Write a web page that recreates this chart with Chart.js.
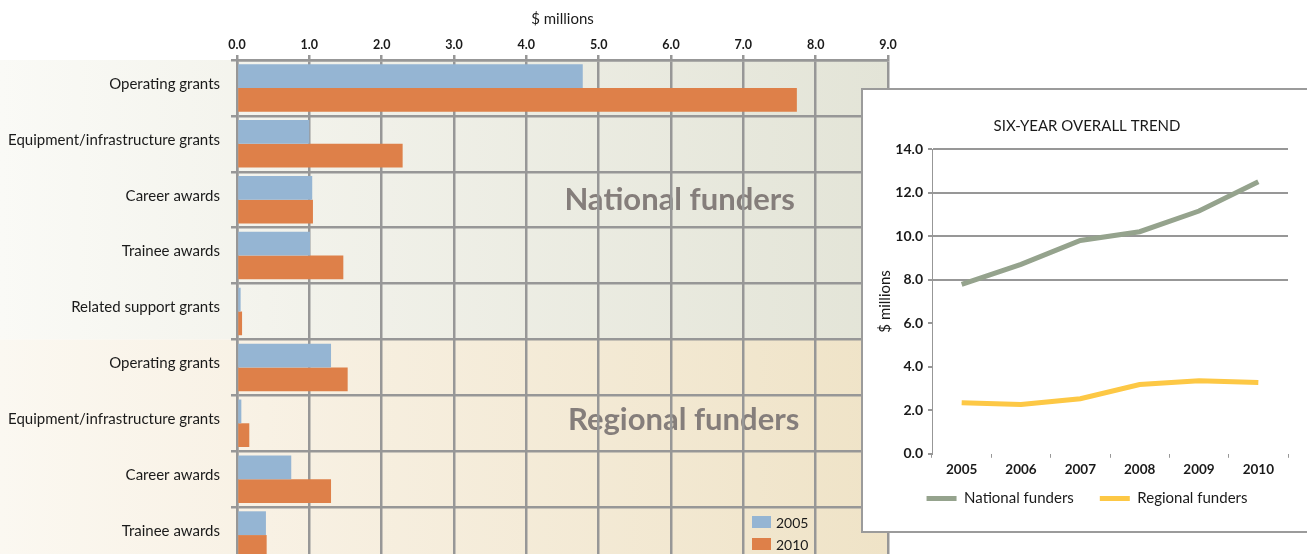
<!DOCTYPE html>
<html>
<head>
<meta charset="utf-8">
<script src="https://cdn.jsdelivr.net/npm/chart.js@4/dist/chart.umd.min.js"></script>
<style>
  html, body { margin: 0; padding: 0; width: 1307px; height: 554px; overflow: hidden; background: #fff; }
  #main { position: absolute; left: 0; top: 0; }
  #inset { position: absolute; left: 861px; top: 88px; width: 452px; height: 445px;
           background: #fff; border: 2px solid #9b9b9b; box-sizing: border-box; }
  #trend { position: absolute; left: 0; top: 0; }
</style>
</head>
<body>
<canvas id="main" width="900" height="583"></canvas>
<div id="inset"><canvas id="trend" width="444" height="441"></canvas></div>
<script>
// bar chart data ($ millions)
var categories = ['Operating grants', 'Equipment/infrastructure grants', 'Career awards', 'Trainee awards',
    'Related support grants', 'Operating grants', 'Equipment/infrastructure grants', 'Career awards', 'Trainee awards']
var values2005 = [4.78, 1.00, 1.04, 1.01, 0.05, 1.30, 0.06, 0.75, 0.40]
var values2010 = [7.74, 2.29, 1.05, 1.47, 0.07, 1.53, 0.17, 1.30, 0.41]
var xTicks = ['0.0', '1.0', '2.0', '3.0', '4.0', '5.0', '6.0', '7.0', '8.0', '9.0']

// trend chart data
var years = ['2005', '2006', '2007', '2008', '2009', '2010']
var national = [7.78, 8.70, 9.80, 10.20, 11.15, 12.50]
var regional = [2.35, 2.26, 2.53, 3.18, 3.36, 3.27]

var FONT = 'Lato, "Open Sans", sans-serif'
var GRID = '#979797'
var BLUE = '#95b5d3'
var ORANGE = '#de8049'

var bands = {
    id: 'bands',
    beforeDraw: function (chart) {
        var ctx = chart.ctx, area = chart.chartArea, y = chart.scales.y
        var split = (y.getPixelForValue(4) + y.getPixelForValue(5)) / 2
        ctx.save()
        var g1 = ctx.createLinearGradient(0, 0, area.right, 0)
        g1.addColorStop(0, '#fafaf6')
        g1.addColorStop(0.3, '#f3f3ec')
        g1.addColorStop(1, '#e3e4d7')
        ctx.fillStyle = g1
        ctx.fillRect(0, area.top, area.right, split - area.top)
        var g2 = ctx.createLinearGradient(0, 0, area.right, 0)
        g2.addColorStop(0, '#fbf8f1')
        g2.addColorStop(0.3, '#f8f1e4')
        g2.addColorStop(1, '#efe3c7')
        ctx.fillStyle = g2
        ctx.fillRect(0, split, area.right, area.bottom - split)

        ctx.fillStyle = '#857e7b'
        ctx.font = 'bold 31px ' + FONT
        ctx.textAlign = 'center'
        ctx.textBaseline = 'middle'
        var cx = area.left + (area.right - area.left) * 0.68
        ctx.fillText('National funders', cx, y.getPixelForValue(2))
        ctx.fillText('Regional funders', cx + 4, y.getPixelForValue(6) - 3)
        ctx.restore()
    },
    afterDraw: function (chart) {
        var ctx = chart.ctx, area = chart.chartArea
        var sets = chart.data.datasets
        ctx.save()
        ctx.font = '14px ' + FONT
        ctx.textBaseline = 'middle'
        ctx.textAlign = 'left'
        for (var i = 0; i < sets.length; i++) {
            var top = 516 + i * 22
            ctx.fillStyle = sets[i].backgroundColor
            ctx.fillRect(area.left + 515, top, 19, 12)
            ctx.fillStyle = '#1a1a1a'
            ctx.fillText(sets[i].label, area.left + 539, top + 7)
        }
        ctx.restore()
    }
}

// pull the trend legend a little closer to the year labels
var legendUp = {
    id: 'legendUp',
    afterLayout: function (chart) {
        if (chart.legend) {
            chart.legend.top -= 17
            chart.legend.bottom -= 17
        }
    }
}

new Chart(document.getElementById('main'), {
    type: 'bar',
    data: {
        labels: categories,
        datasets: [
            { label: '2005', data: values2005, backgroundColor: BLUE },
            { label: '2010', data: values2010, backgroundColor: ORANGE }
        ]
    },
    options: {
        indexAxis: 'y',
        responsive: false,
        animation: false,
        categoryPercentage: 0.85,
        barPercentage: 1.0,
        layout: { padding: { left: 0, right: 12, top: 0, bottom: 0 } },
        plugins: { legend: { display: false }, tooltip: { enabled: false } },
        scales: {
            x: {
                position: 'top',
                min: 0, max: 9,
                ticks: {
                    stepSize: 1,
                    padding: 3,
                    color: '#1a1a1a',
                    font: { family: FONT, size: 12.5, weight: 'bold' },
                    callback: function (v, i) { return xTicks[i] }
                },
                title: { display: true, text: '$ millions', color: '#1a1a1a',
                         font: { family: FONT, size: 15 }, padding: { top: 10, bottom: 0 } },
                grid: { color: GRID, lineWidth: 2.5, tickLength: 5 },
                border: { color: GRID, width: 2.5 },
                afterFit: function (s) { s.height = 60 }
            },
            y: {
                ticks: { color: '#1a1a1a', padding: 11, labelOffset: -4, font: { family: FONT, size: 15 } },
                grid: { color: GRID, lineWidth: 2.5, tickLength: 6 },
                border: { color: GRID, width: 2.5 },
                afterFit: function (s) { s.width = 237 }
            }
        }
    },
    plugins: [bands]
})

new Chart(document.getElementById('trend'), {
    type: 'line',
    data: {
        labels: years,
        datasets: [
            { label: 'National funders', data: national, borderColor: '#95a38d', backgroundColor: '#95a38d',
              borderWidth: 5, pointRadius: 0, tension: 0 },
            { label: 'Regional funders', data: regional, borderColor: '#fdc845', backgroundColor: '#fdc845',
              borderWidth: 5, pointRadius: 0, tension: 0 }
        ]
    },
    options: {
        responsive: false,
        animation: false,
        layout: { padding: { left: 23, right: 19, top: 0, bottom: -2 } },
        plugins: {
            tooltip: { enabled: false },
            title: { display: true, text: 'SIX-YEAR OVERALL TREND', color: '#1a1a1a',
                     font: { family: FONT, size: 15, weight: 'normal' }, padding: { top: 27, bottom: 14 } },
            legend: {
                position: 'bottom',
                labels: {
                    color: '#1a1a1a',
                    font: { family: FONT, size: 15 },
                    boxWidth: 30, boxHeight: 5, padding: 26,
                    generateLabels: function (chart) {
                        return chart.data.datasets.map(function (d, i) {
                            return { text: d.label, fillStyle: d.borderColor, strokeStyle: d.borderColor,
                                     lineWidth: 0, datasetIndex: i, fontColor: '#1a1a1a' }
                        })
                    }
                }
            }
        },
        scales: {
            x: {
                offset: true,
                ticks: { color: '#1a1a1a', padding: 4, font: { family: FONT, size: 13.5, weight: 'bold' } },
                grid: { drawOnChartArea: false, color: GRID, tickLength: 4, offset: true },
                border: { display: false }
            },
            y: {
                min: 0, max: 14,
                ticks: { stepSize: 2, color: '#1a1a1a', padding: 5,
                         font: { family: FONT, size: 14, weight: 'bold' },
                         callback: function (v) { return v.toFixed(1) } },
                title: { display: true, text: '$ millions', color: '#1a1a1a',
                         font: { family: FONT, size: 15 }, padding: { top: -10, bottom: 0 } },
                grid: {
                    color: function (c) { return c.tick && c.tick.value >= 8 ? GRID : 'rgba(0,0,0,0)' },
                    tickColor: GRID, lineWidth: 2, tickLength: 4
                },
                border: { color: GRID, width: 1 },
                afterFit: function (s) { s.width = 46 }
            }
        }
    },
    plugins: [legendUp]
})
</script>
</body>
</html>
